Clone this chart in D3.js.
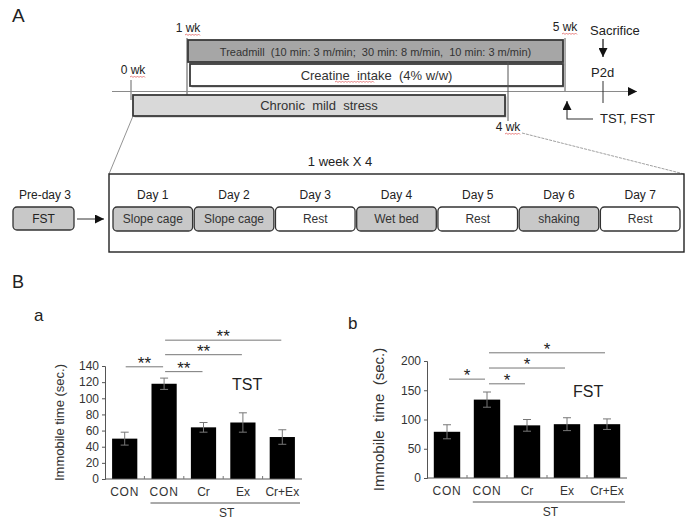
<!DOCTYPE html>
<html><head><meta charset="utf-8">
<script src="https://cdn.jsdelivr.net/npm/d3@7"></script>
<style>body{margin:0;background:#fff}svg{display:block;font-family:"Liberation Sans",Arial,sans-serif}</style>
</head><body><svg id="c" width="692" height="521"></svg>
<script>
// ---------- data ----------
const categories = ["CON","CON","Cr","Ex","Cr+Ex"];
const tstMeans = [50,118,64,70,52];
const tstErr = [8,7,6,12,9];
const fstMeans = [79,134,90,92,92];
const fstErr = [12,13,10,11,9];
const tstTicks = [0,20,40,60,80,100,120,140];
const fstTicks = [0,50,100,150,200];
const tstSig = [{from:0,to:1,label:"**",y:139},{from:1,to:2,label:"**",y:133},{from:1,to:3,label:"**",y:154},{from:1,to:4,label:"**",y:172}];
const fstSig = [{from:0,to:1,label:"*",y:169},{from:1,to:2,label:"*",y:161},{from:1,to:3,label:"*",y:188},{from:1,to:4,label:"*",y:214}];
const weekLabels = ["0 wk","1 wk","4 wk","5 wk"];
const weekValues = [0,1,4,5];
const dayLabels = ["Day 1","Day 2","Day 3","Day 4","Day 5","Day 6","Day 7"];
const dayTasks = ["Slope cage","Slope cage","Rest","Wet bed","Rest","shaking","Rest"];
const dayStress = [true,true,false,true,false,true,false];

const svg = d3.select("#c");
const txt = "#222";
function text(x,y,s,size,anchor,extra){
  const t = svg.append("text").attr("x",x).attr("y",y).text(s).attr("font-size",size).attr("fill",txt).attr("text-anchor",anchor||"start");
  if(extra) extra(t);
  return t;
}
function squiggle(x1,x2,y){
  let d="M"+x1+","+y; let up=true;
  for(let x=x1+1.5;x<=x2;x+=1.5){d+="L"+x+","+(y+(up?-1:0.5));up=!up;}
  svg.append("path").attr("d",d).attr("fill","none").attr("stroke","#e06060").attr("stroke-width",0.8);
}
const defs = svg.append("defs");
defs.append("marker").attr("id","ah").attr("viewBox","0 0 10 10").attr("refX",10).attr("refY",5)
  .attr("markerWidth",9).attr("markerHeight",9).attr("markerUnits","userSpaceOnUse").attr("orient","auto")
  .append("path").attr("d","M0,0L10,5L0,10Z").attr("fill","#111");

// ---------- Panel A timeline ----------
text(12,22,"A",19);
const wk = d3.scaleLinear().domain(weekValues).range([131,187,508,565]);
const axisY = 91.5;
const boxes = [
  {x0:1,x1:5,y:40,h:22,fill:"#a6a6a6",label:"Treadmill  (10 min: 3 m/min;  30 min: 8 m/min,  10 min: 3 m/min)",fs:11,pad:[1,-2]},
  {x0:1,x1:5,y:64,h:22,fill:"#ffffff",label:"Creatine  intake  (4% w/w)",fs:13,pad:[3,-2]},
  {x0:0,x1:4,y:95,h:21,fill:"#d9d9d9",label:"Chronic  mild  stress",fs:13,pad:[2,-3]}
];
svg.append("line").attr("x1",wk(0)).attr("x2",wk(0)).attr("y1",80).attr("y2",100).attr("stroke","#666");
svg.append("line").attr("x1",wk(1)).attr("x2",wk(1)).attr("y1",38).attr("y2",95).attr("stroke","#555");
svg.append("line").attr("x1",wk(5)).attr("x2",wk(5)).attr("y1",38).attr("y2",92).attr("stroke","#555");
svg.append("line").attr("x1",112).attr("x2",637).attr("y1",axisY).attr("y2",axisY).attr("stroke","#8a8a8a").attr("stroke-width",1.2).attr("marker-end","url(#ah)");
boxes.forEach(b=>{
  const x0=wk(b.x0)+b.pad[0], x1=wk(b.x1)+b.pad[1];
  svg.append("rect").attr("x",x0+1.5).attr("y",b.y+1.5).attr("width",x1-x0).attr("height",b.h).attr("fill","#bbb");
  svg.append("rect").attr("x",x0).attr("y",b.y).attr("width",x1-x0).attr("height",b.h).attr("fill",b.fill).attr("stroke","#3a3a3a").attr("stroke-width",1.8);
  text((x0+x1)/2,b.y+b.h/2+4.5,b.label,b.fs,"middle",t=>t.attr("fill","#333").style("white-space","pre"));
});
squiggle(335,374,82);
svg.append("line").attr("x1",wk(4)).attr("x2",wk(4)).attr("y1",62).attr("y2",121).attr("stroke","#555");
const wkLabY = [74,32,131,31];
weekValues.forEach((w,i)=>{
  const cx = wk(w)+[2,1,0,0][i];
  text(cx,wkLabY[i],weekLabels[i],12,"middle");
  squiggle(cx-3,cx+12,wkLabY[i]+3);
});
text(590,35,"Sacrifice",13);
svg.append("line").attr("x1",603).attr("x2",603).attr("y1",39).attr("y2",57).attr("stroke","#111").attr("stroke-width",1.2).attr("marker-end","url(#ah)");
text(591,77,"P2d",13);
svg.append("line").attr("x1",603).attr("x2",603).attr("y1",81).attr("y2",103).attr("stroke","#333");
svg.append("path").attr("d","M593,119L567,119L567,101").attr("fill","none").attr("stroke","#333").attr("stroke-width",1.1).attr("marker-end","url(#ah)");
text(600,123,"TST, FST",13);

// ---------- weekly schedule ----------
svg.append("line").attr("x1",wk(0)+2).attr("y1",116).attr("x2",109).attr("y2",174).attr("stroke","#777").attr("stroke-width",0.8);
svg.append("line").attr("x1",522).attr("y1",133).attr("x2",684).attr("y2",174).attr("stroke","#888").attr("stroke-width",0.8).attr("stroke-dasharray","3,1");
text(340,166,"1 week X 4",13,"middle");
svg.append("rect").attr("x",109).attr("y",174).attr("width",575).attr("height",78).attr("fill","none").attr("stroke","#222").attr("stroke-width",1.4);
text(45,199,"Pre-day 3",12,"middle");
svg.append("rect").attr("x",13).attr("y",207).attr("width",61).attr("height",23).attr("rx",4).attr("fill","#c8c8c8").attr("stroke","#333").attr("stroke-width",1.3);
text(43.5,223,"FST",12,"middle");
svg.append("line").attr("x1",77).attr("x2",104).attr("y1",219).attr("y2",219).attr("stroke","#333").attr("marker-end","url(#ah)");
const dayX = d3.scaleBand().domain(dayLabels).range([113,680]).paddingInner(0.02);
dayLabels.forEach((d,i)=>{
  const x=dayX(d), w=dayX.bandwidth();
  text(x+w/2,199,d,12,"middle");
  svg.append("rect").attr("x",x).attr("y",207).attr("width",w).attr("height",24).attr("rx",4)
    .attr("fill",dayStress[i]?"#c8c8c8":"#fff").attr("stroke","#333").attr("stroke-width",1.3);
  text(x+w/2,223,dayTasks[i],12,"middle",t=>t.style("white-space","pre").attr("fill","#333"));
});

// ---------- Panel B ----------
text(12,288,"B",18);
function barChart(o){
  const x = d3.scaleBand().domain(d3.range(categories.length)).range([o.x0,o.x1]).paddingInner(o.pad).paddingOuter(o.pad/2);
  const y = d3.scaleLinear().domain([0,o.max]).range([o.y0,o.y1]);
  const g = svg.append("g");
  g.selectAll("rect.b").data(o.means).join("rect").attr("x",(d,i)=>x(i)).attr("width",x.bandwidth())
    .attr("y",d=>y(d)).attr("height",d=>y(0)-y(d)).attr("fill","#000");
  o.means.forEach((m,i)=>{
    const cx=x(i)+x.bandwidth()/2;
    g.append("line").attr("x1",cx).attr("x2",cx).attr("y1",y(m-o.err[i])).attr("y2",y(m+o.err[i])).attr("stroke","#777");
    [m-o.err[i],m+o.err[i]].forEach(v=>g.append("line").attr("x1",cx-4).attr("x2",cx+4).attr("y1",y(v)).attr("y2",y(v)).attr("stroke","#777"));
  });
  const ya = g.append("g").attr("transform",`translate(${o.x0},0)`).call(d3.axisLeft(y).tickValues(o.ticks).tickSize(3).tickPadding(3));
  ya.select(".domain").attr("stroke","#555");
  ya.selectAll(".tick line").attr("stroke","#555");
  ya.selectAll("text").attr("font-size",o.tfs).attr("fill","#333").attr("font-family","Liberation Sans, Arial");
  g.append("line").attr("x1",o.x0).attr("x2",o.x1).attr("y1",y(0)).attr("y2",y(0)).attr("stroke","#555");
  d3.range(1,categories.length).forEach(i=>{
    const xb=x(i)-x.step()*x.paddingInner()/2;
    g.append("line").attr("x1",xb).attr("x2",xb).attr("y1",y(0)).attr("y2",y(0)-3).attr("stroke","#777");
  });
  categories.forEach((c,i)=>{
    g.append("text").attr("x",x(i)+x.bandwidth()/2).attr("y",y(0)+17).attr("text-anchor","middle").attr("font-size",12).attr("fill","#333").attr("letter-spacing",c==="CON"?0.8:0).text(c);
  });
  g.append("line").attr("x1",x(1)-1).attr("x2",o.x1-2).attr("y1",o.y0+24).attr("y2",o.y0+24).attr("stroke","#555");
  g.append("text").attr("x",(x(1)+o.x1)/2).attr("y",o.y0+38).attr("text-anchor","middle").attr("font-size",12).attr("fill","#333").text("ST");
  o.sig.forEach(s=>{
    const xa=x(s.from)+x.bandwidth()/2+o.sx[0], xb=x(s.to)+x.bandwidth()/2+o.sx[1];
    g.append("line").attr("x1",xa).attr("x2",xb).attr("y1",y(s.y)).attr("y2",y(s.y)).attr("stroke","#777");
    g.append("text").attr("x",(xa+xb)/2).attr("y",y(s.y)+2).attr("text-anchor","middle").attr("font-size",17).attr("fill","#222").text(s.label);
  });
  g.append("text").attr("transform",`translate(${o.titleX},${(o.y0+o.y1)/2}) rotate(-90)`).attr("text-anchor","middle")
    .attr("font-size",o.titleFs).attr("fill","#333").style("white-space","pre").text(o.title);
  g.append("text").attr("x",o.nameX).attr("y",o.nameY).attr("font-size",16).attr("fill","#222").text(o.name);
  g.append("text").attr("x",o.panelX).attr("y",o.panelY).attr("font-size",17).attr("fill","#222").text(o.panel);
}
barChart({x0:105,x1:302,y0:479,y1:366,max:140,means:tstMeans,err:tstErr,ticks:tstTicks,pad:0.36,sig:tstSig,sx:[1,-1],
  title:"Immobile time (sec.)",titleX:64,titleFs:13,name:"TST",nameX:232,nameY:390,panel:"a",panelX:34,panelY:321,tfs:12});
barChart({x0:427,x1:627,y0:478,y1:361,max:200,means:fstMeans,err:fstErr,ticks:fstTicks,pad:0.34,sig:fstSig,sx:[2,-2],
  title:"Immobile  time  (sec.)",titleX:384,titleFs:15,name:"FST",nameX:573,nameY:397,panel:"b",panelX:348,panelY:329,tfs:12});
</script></body></html>
